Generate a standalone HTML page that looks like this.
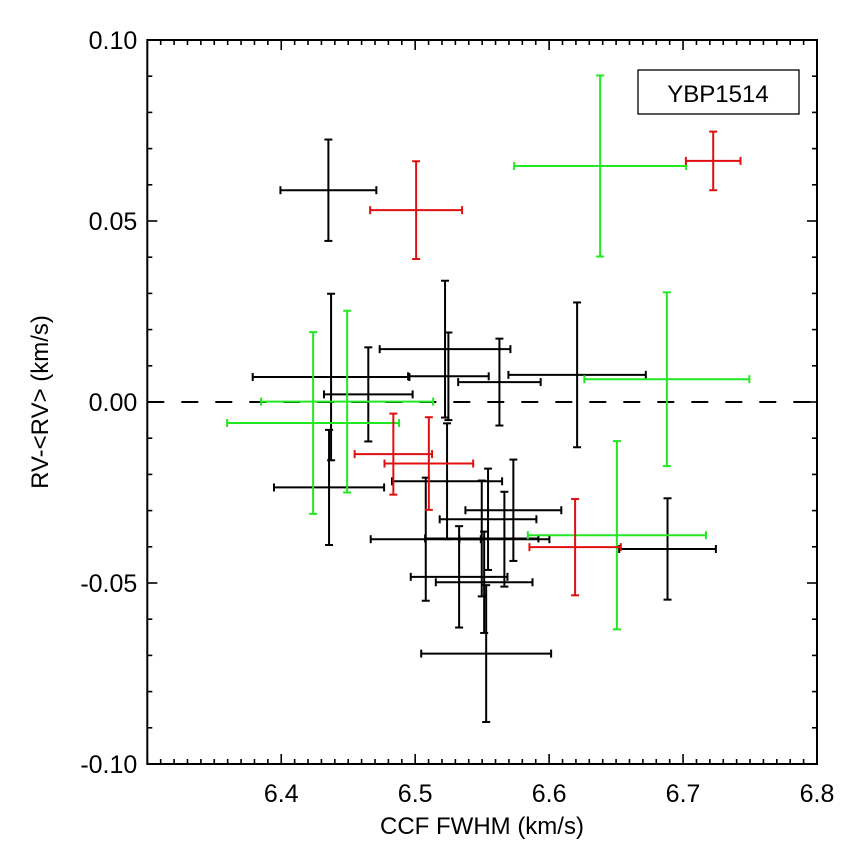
<!DOCTYPE html>
<html><head><meta charset="utf-8"><style>
html,body{margin:0;padding:0;background:#fff;}
svg{display:block;font-family:"Liberation Sans",sans-serif;}
</style></head><body>
<svg id="chart" width="857" height="856" viewBox="0 0 857 856" xmlns="http://www.w3.org/2000/svg">
<rect x="0" y="0" width="857" height="856" fill="#fff"/>
<g id="marks"></g>
<g id="axes"></g>
<g>
<rect x="638" y="70" width="161" height="44" fill="#fff" stroke="#000" stroke-width="1.3"/>
<text x="718" y="102" text-anchor="middle" font-size="24" fill="#000">YBP1514</text>
</g>
<text x="482" y="834" text-anchor="middle" font-size="24" fill="#000">CCF FWHM (km/s)</text>
<text transform="translate(48,402) rotate(-90)" text-anchor="middle" font-size="24" fill="#000">RV-&lt;RV&gt; (km/s)</text>
</svg>
<script>
const blackX  = [6.4352,6.4372,6.4650,6.4357,6.5248,6.5223,6.5629,6.6209,6.5238,6.5328,6.5079,6.5544,6.5733,6.5515,6.5666,6.5497,6.5530,6.6884];
const blackY  = [0.0585,0.0069,0.0021,-0.0236,0.0071,0.0146,0.0055,0.0075,-0.0219,-0.0483,-0.0379,-0.0324,-0.0299,-0.0498,-0.0379,-0.0377,-0.0695,-0.0406];
const blackDX = [0.0358,0.0585,0.0331,0.0411,0.0301,0.0488,0.0308,0.0513,0.0411,0.0361,0.0411,0.0361,0.0358,0.0361,0.0336,0.0423,0.0485,0.0361];
const blackDY = [0.0140,0.0230,0.0130,0.0159,0.0121,0.0189,0.0120,0.0200,0.0160,0.0140,0.0170,0.0140,0.0140,0.0140,0.0131,0.0160,0.0189,0.0140];
const redX  = [6.5007,6.7225,6.4837,6.5102,6.6194];
const redY  = [0.0530,0.0666,-0.0144,-0.0170,-0.0401];
const redDX = [0.0343,0.0204,0.0289,0.0331,0.0341];
const redDY = [0.0135,0.0081,0.0112,0.0128,0.0133];
const greenX  = [6.6381,6.6879,6.6506,6.4238,6.4492];
const greenY  = [0.0652,0.0063,-0.0368,-0.0058,0.0001];
const greenDX = [0.0642,0.0616,0.0665,0.0642,0.0642];
const greenDY = [0.0250,0.0240,0.0260,0.0251,0.0251];
const xTicks = [6.4,6.5,6.6,6.7,6.8];
const xTickLabels = ["6.4","6.5","6.6","6.7","6.8"];
const yTicks = [0.10,0.05,0.00,-0.05,-0.10];
const yTickLabels = ["0.10","0.05","0.00","-0.05","-0.10"];

const L=147.3,R=817,T=40,B=764,X0=6.3,X1=6.8,Y0=-0.1,Y1=0.1;
const sx=v=>L+(v-X0)/(X1-X0)*(R-L);
const sy=v=>B-(v-Y0)/(Y1-Y0)*(B-T);
const NS="http://www.w3.org/2000/svg";
const marks=document.getElementById('marks');
const axes=document.getElementById('axes');
function ln(parent,x1,y1,x2,y2,col,w,dash){
  const e=document.createElementNS(NS,'line');
  e.setAttribute('x1',x1);e.setAttribute('y1',y1);e.setAttribute('x2',x2);e.setAttribute('y2',y2);
  e.setAttribute('stroke',col);e.setAttribute('stroke-width',w);
  if(dash)e.setAttribute('stroke-dasharray',dash);
  parent.appendChild(e);return e;
}
const z=ln(marks,L,sy(0),R,sy(0),'#000',2,'17,17');


function series(xs,ys,dxs,dys,col,name){
  for(let i=0;i<xs.length;i++){
    const g=document.createElementNS(NS,'g');
    
    
    const cx=sx(xs[i]),cy=sy(ys[i]);
    const x1=sx(xs[i]-dxs[i]),x2=sx(xs[i]+dxs[i]);
    const y1=sy(ys[i]+dys[i]),y2=sy(ys[i]-dys[i]);
    ln(g,x1,cy,x2,cy,col,2);ln(g,cx,y1,cx,y2,col,2);
    ln(g,x1,cy-4,x1,cy+4,col,2);ln(g,x2,cy-4,x2,cy+4,col,2);
    ln(g,cx-4,y1,cx+4,y1,col,2);ln(g,cx-4,y2,cx+4,y2,col,2);
    marks.appendChild(g);
  }
}
series(blackX,blackY,blackDX,blackDY,'#000','black-series');
series(greenX,greenY,greenDX,greenDY,'#22e822','green-series');
series(redX,redY,redDX,redDY,'#e01010','red-series');
const fr=document.createElementNS(NS,'rect');
fr.setAttribute('x',L);fr.setAttribute('y',T);fr.setAttribute('width',R-L);fr.setAttribute('height',B-T);
fr.setAttribute('fill','none');fr.setAttribute('stroke','#000');fr.setAttribute('stroke-width',2);


axes.appendChild(fr);
for(let k=0;k<=50;k++){
  const v=X0+k*0.01, x=sx(v), len=(k%10===0)?10:5;
  ln(axes,x,B,x,B-len,'#000',1.6);ln(axes,x,T,x,T+len,'#000',1.6);
}
for(let k=0;k<=20;k++){
  const v=Y0+k*0.01, y=sy(v), len=(k%5===0)?10:5;
  ln(axes,L,y,L+len,y,'#000',1.6);ln(axes,R,y,R-len,y,'#000',1.6);
}
xTicks.forEach((v,i)=>{
  const t=document.createElementNS(NS,'text');
  t.setAttribute('x',sx(v));t.setAttribute('y',B+38);t.setAttribute('text-anchor','middle');
  t.setAttribute('font-size','25');t.textContent=xTickLabels[i];
  
  
  axes.appendChild(t);
});
yTicks.forEach((v,i)=>{
  const t=document.createElementNS(NS,'text');
  t.setAttribute('x',L-10);t.setAttribute('y',sy(v)+9);t.setAttribute('text-anchor','end');
  t.setAttribute('font-size','25');t.textContent=yTickLabels[i];
  
  
  axes.appendChild(t);
});
</script>
</body></html>
